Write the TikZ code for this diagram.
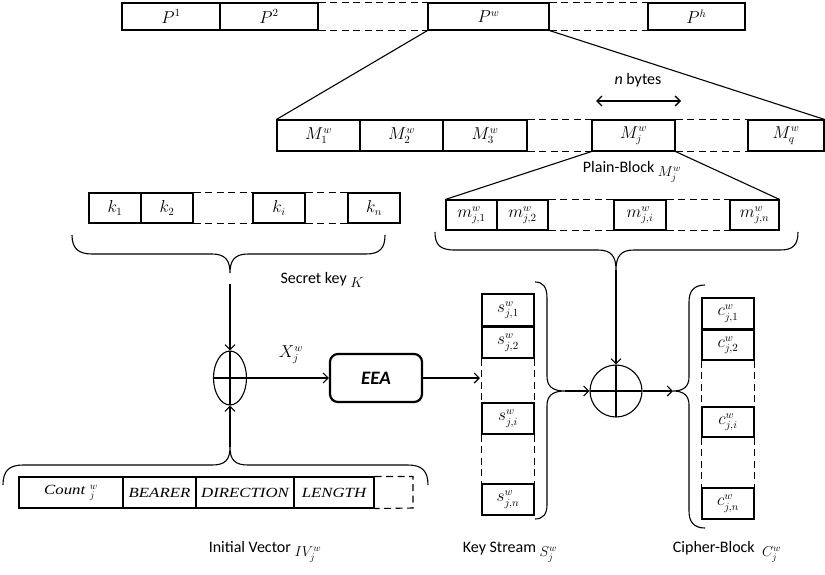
\documentclass[tikz,border=0pt]{standalone}
\usepackage[no-math]{fontspec}
\setmainfont{Carlito}
\newfontfamily\tms[FakeStretch=1.2]{Liberation Serif}
\usetikzlibrary{arrows.meta,shapes.geometric}
\newcommand\lblm[1]{\raisebox{-4pt}{\fontsize{14}{16}\selectfont$#1$}}
\begin{document}
\begin{tikzpicture}[x=1pt,y=-1pt,font=\fontsize{16}{18}\selectfont,
 cell/.style 2 args={draw,line width=1.1pt,inner sep=0pt,minimum width=#1,minimum height=#2},
 dashline/.style={line width=1.1pt,dash pattern=on 7pt off 4.5pt},
 conn/.style={line width=1.1pt},
 arr/.style={line width=1.1pt,-{Straight Barb[length=5pt,width=10pt]}},
 lbl/.style={font=\fontsize{16}{19}\selectfont,inner sep=1pt},
 xorsym/.style={draw,line width=1.1pt,inner sep=0pt,
   path picture={\draw[line width=1.1pt] (path picture bounding box.north) -- (path picture bounding box.south)
     (path picture bounding box.west) -- (path picture bounding box.east);}},
 ivtxt/.style={font=\fontsize{14}{16}\selectfont\tms\itshape}
]
\useasboundingbox (0,0) rectangle (825,574);

% top row
\node[cell={98}{27}] (p1) at (171,16.5) {$P^1$};
\node[cell={98}{27}] (p2) at (269,16.5) {$P^2$};
\node[cell={121}{27}] (pw) at (488.5,16.5) {$P^w$};
\node[cell={97}{27}] (ph) at (696.5,16.5) {$P^h$};
\draw[dashline] (p2.north east) -- (pw.north west) (p2.south east) -- (pw.south west);
\draw[dashline] (pw.north east) -- (ph.north west) (pw.south east) -- (ph.south west);

% M row
\node[cell={83}{31}] (M1) at (318.5,135.5) {$M_1^w$};
\node[cell={83}{31}] (M2) at (401.5,135.5) {$M_2^w$};
\node[cell={84}{31}] (M3) at (485,135.5) {$M_3^w$};
\node[cell={83}{31}] (Mj) at (633.5,135.5) {$M_j^w$};
\node[cell={76}{31}] (Mq) at (786,135.5) {$M_q^w$};
\draw[dashline] (M3.north east) -- (Mj.north west) (M3.south east) -- (Mj.south west);
\draw[dashline] (Mj.north east) -- (Mq.north west) (Mj.south east) -- (Mq.south west);
\draw[conn] (pw.south west) -- (M1.north west) (pw.south east) -- (Mq.north east);

% n bytes
\coordinate (nbl) at (596,101);
\coordinate (nbr) at (681,101);
\draw[line width=1.3pt,{Straight Barb[length=5pt,width=10pt]}-{Straight Barb[length=5pt,width=10pt]}] (nbl) -- (nbr);
\node[lbl] (nb) at (638,80) {\textit{n} bytes};

% m row
\node[cell={51}{30}] (m1) at (471.5,215) {$m^w_{j,1}$};
\node[cell={51}{30}] (m2) at (522.5,215) {$m^w_{j,2}$};
\node[cell={52}{30}] (mi) at (640,215) {$m^w_{j,i}$};
\node[cell={49}{30}] (mn) at (754.5,215) {$m^w_{j,n}$};
\draw[dashline] (m2.north east) -- (mi.north west) (m2.south east) -- (mi.south west);
\draw[dashline] (mi.north east) -- (mn.north west) (mi.south east) -- (mn.south west);
\draw[conn] (Mj.south west) -- (m1.north west) (Mj.south east) -- (mn.north east);
\node[lbl] (plain) at (632,172) {Plain-Block\ \lblm{M_j^w}};

% k row
\node[cell={52}{30}] (k1) at (115,208) {$k_1$};
\node[cell={52}{30}] (k2) at (167,208) {$k_2$};
\node[cell={52}{30}] (ki) at (279,208) {$k_i$};
\node[cell={52}{30}] (kn) at (374,208) {$k_n$};
\draw[dashline] (k2.north east) -- (ki.north west) (k2.south east) -- (ki.south west);
\draw[dashline] (ki.north east) -- (kn.north west) (ki.south east) -- (kn.south west);

% braces
\draw[conn] (72,235) .. controls (72,248) and (78,254) .. (92,254) -- (212,254)
  .. controls (225,254) and (230,260) .. (230,273) .. controls (230,260) and (235,254) .. (248,254)
  -- (366,254) .. controls (380,254) and (385,248) .. (385,235);
\coordinate (kbt) at (230,284);
\node[lbl] (secret) at (322,280) {Secret key \lblm{K}};

\draw[conn] (435,232) .. controls (435,245) and (440,250) .. (455,250) -- (598,250)
  .. controls (611,250) and (616,256) .. (616,270) .. controls (616,256) and (621,250) .. (634,250)
  -- (780,250) .. controls (793,250) and (798,245) .. (798,232);
\coordinate (mbt) at (616,270);

\draw[conn] (3,485) .. controls (3,471) and (9,465) .. (23,465) -- (212,465)
  .. controls (225,465) and (230,460) .. (230,447) .. controls (230,460) and (235,465) .. (248,465)
  -- (408,465) .. controls (422,465) and (428,471) .. (428,485);
\coordinate (ivt) at (230,447);

% xor 1 and EEA
\node[xorsym,ellipse,minimum width=33,minimum height=54] (x1) at (230,378) {};
\node[draw,rounded corners=8pt,line width=2.2pt,minimum width=92,minimum height=48,
  font=\fontsize{19}{22}\selectfont\bfseries\itshape] (eea) at (376,378) {EEA};
\node (xl) at (291,355) {$X_j^w$};
\coordinate (ksin) at (480,378);
\draw[arr] (kbt) -- (x1.north);
\draw[arr] (ivt) -- (x1.south);
\draw[arr] (x1.east) -- (eea.west);
\draw[arr] (eea.east) -- (ksin);

% key stream
\node[cell={52}{32}] (s1) at (508,310) {$s^w_{j,1}$};
\node[cell={52}{31}] (s2) at (508,342.5) {$s^w_{j,2}$};
\node[cell={52}{31}] (si) at (508,418.5) {$s^w_{j,i}$};
\node[cell={52}{31}] (sn) at (508,499.5) {$s^w_{j,n}$};
\draw[dashline] (s2.south west) -- (si.north west) (s2.south east) -- (si.north east);
\draw[dashline] (si.south west) -- (sn.north west) (si.south east) -- (sn.north east);
\draw[conn] (535,282) .. controls (543,282) and (547,287) .. (547,298) -- (547,376)
  .. controls (547,386) and (552,391) .. (565,391) .. controls (552,391) and (547,396) .. (547,406)
  -- (547,505) .. controls (547,514) and (543,519) .. (535,519);
\coordinate (ksb) at (565,391);
\node[lbl] (kslbl) at (510,552) {Key Stream \lblm{S_j^w}};

% xor 2
\node[xorsym,circle,minimum size=52] (x2) at (616,391) {};
\draw[arr] (mbt) -- (x2.north);
\draw[arr] (ksb) -- (x2.west);

% cipher block
\node[cell={52}{31}] (c1) at (728,313.5) {$c^w_{j,1}$};
\node[cell={52}{30}] (c2) at (728,345) {$c^w_{j,2}$};
\node[cell={52}{30}] (ci) at (728,422) {$c^w_{j,i}$};
\node[cell={52}{31}] (cn) at (728,503.5) {$c^w_{j,n}$};
\draw[dashline] (c2.south west) -- (ci.north west) (c2.south east) -- (ci.north east);
\draw[dashline] (ci.south west) -- (cn.north west) (ci.south east) -- (cn.north east);
\draw[conn] (705,285) .. controls (694,285) and (689,291) .. (689,302) -- (689,377)
  .. controls (689,386) and (684,391) .. (673,391) .. controls (684,391) and (689,396) .. (689,405)
  -- (689,511) .. controls (689,522) and (694,528) .. (705,528);
\coordinate (cbt) at (673,391);
\draw[arr] (x2.east) -- (cbt);
\node[lbl] (cblbl) at (727,552) {Cipher-Block\ \ \lblm{C_j^w}};

% IV row
\node[cell={104}{31},ivtxt] (count) at (71,492.5) {Count\,\,$^{w}_{j}$};
\node[cell={73}{31},ivtxt] (bearer) at (159.5,492.5) {BEARER};
\node[cell={98}{31},ivtxt] (direction) at (245,492.5) {DIRECTION};
\node[cell={80}{31},ivtxt] (length) at (334,492.5) {LENGTH};
\coordinate (ivend) at (413,508);
\draw[dashline] (length.north east) -| (ivend) -- (length.south east);
\node[lbl] (ivlbl) at (265,552) {Initial Vector \lblm{IV_j^w}};
\end{tikzpicture}
\end{document}
